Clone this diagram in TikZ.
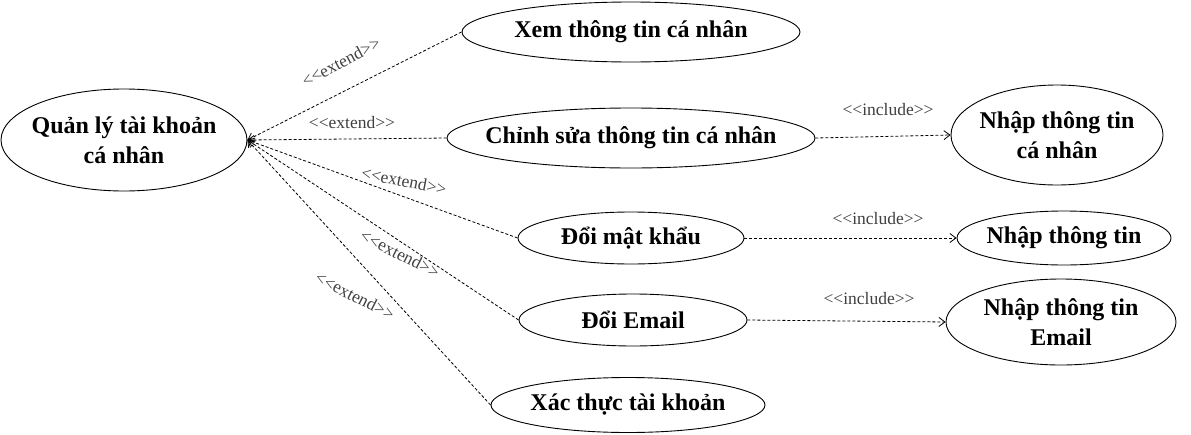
\documentclass[tikz,border=0pt]{standalone}
\usepackage{fontspec}
\setmainfont{Liberation Serif}
\usetikzlibrary{shapes.geometric,arrows.meta}
\newcommand\stereo[1]{<\kern0pt<#1>\kern0pt>}
\begin{document}
\begin{tikzpicture}[x=1pt, y=-1pt,
	usecase/.style={draw, ellipse, inner sep=-20pt, line width=0.9pt, align=center, font=\fontsize{24}{30}\selectfont\bfseries},
	dep/.style={draw, line width=0.8pt, dash pattern=on 3pt off 2pt, -{Straight Barb[length=6pt, width=9pt]}},
	stereolbl/.style={inner sep=0pt, text=black!75, font=\fontsize{17.5}{17.5}\selectfont}]
	\useasboundingbox (0, 0) rectangle (1191, 434);
	\node[usecase, minimum width=246, minimum height=102] (main) at (124, 140) {Quản lý tài khoản\\cá nhân};
	\node[usecase, minimum width=338, minimum height=60] (xem) at (631, 32) {Xem thông tin cá nhân};
	\node[usecase, minimum width=368, minimum height=60] (chinh) at (631, 138) {Chỉnh sửa thông tin cá nhân};
	\node[usecase, minimum width=212, minimum height=100] (nhapcn) at (1057, 135) {Nhập thông tin\\cá nhân};
	\node[usecase, minimum width=226, minimum height=52] (doimk) at (631, 238) {Đổi mật khẩu};
	\node[usecase, minimum width=214, minimum height=54] (nhaptt) at (1064, 238) {Nhập thông tin};
	\node[usecase, minimum width=228, minimum height=52] (email) at (633, 320) {Đổi Email};
	\node[usecase, minimum width=230, minimum height=86] (nhapemail) at (1061, 322) {Nhập thông tin\\Email};
	\node[usecase, minimum width=274, minimum height=55] (xacthuc) at (628, 405) {Xác thực tài khoản};
	\draw[dep] (xem.west) -- (main.east);
	\draw[dep] (chinh.west) -- (main.east);
	\draw[dep] (doimk.west) -- (main.east);
	\draw[dep] (email.west) -- (main.east);
	\draw[dep] (xacthuc.west) -- (main.east);
	\draw[dep] (chinh.east) -- (nhapcn.west);
	\draw[dep] (doimk.east) -- (nhaptt.west);
	\draw[dep] (email.east) -- (nhapemail.west);
	\node[stereolbl, rotate=28] (lxem) at (341, 62) {\stereo{extend}};
	\node[stereolbl] (lchinh) at (352, 123) {\stereo{extend}};
	\node[stereolbl, rotate=-11] (ldoimk) at (404, 181) {\stereo{extend}};
	\node[stereolbl, rotate=-27] (lemail) at (400, 254) {\stereo{extend}};
	\node[stereolbl, rotate=-27] (lxacthuc) at (355, 296) {\stereo{extend}};
	\node[stereolbl] (lnhapcn) at (888, 110) {\stereo{include}};
	\node[stereolbl] (lnhaptt) at (878, 219) {\stereo{include}};
	\node[stereolbl] (lnhapemail) at (869, 299) {\stereo{include}};
\end{tikzpicture}
\end{document}
